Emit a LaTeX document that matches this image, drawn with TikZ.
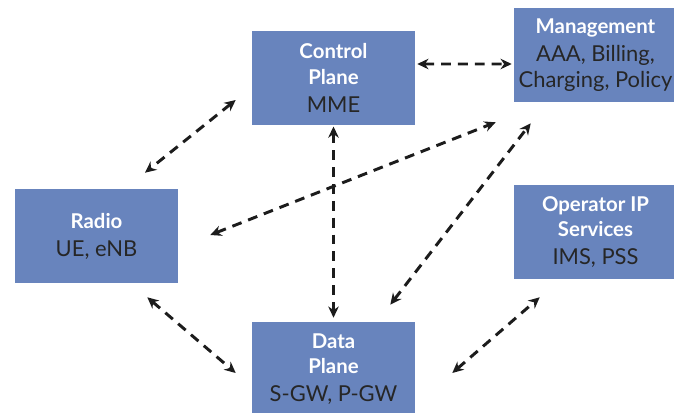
\documentclass[tikz,border=0pt]{standalone}
\usepackage{fontspec}
\setsansfont{Lato}
\usetikzlibrary{arrows.meta,calc}
\definecolor{boxfill}{HTML}{6884BD}
\definecolor{subfg}{HTML}{262626}
\definecolor{arrowc}{HTML}{1C1C1C}
\newcommand{\sublbl}{\mdseries\fontsize{15.6}{20}\selectfont\color{subfg}}

\begin{document}
\begin{tikzpicture}[
  box/.style={
    fill=boxfill,
    draw=none,
    align=center,
    minimum width=4.075cm,
    minimum height=2.35cm,
    inner sep=0pt,
    text=white,
    font=\sffamily\bfseries\fontsize{14.5}{18}\selectfont
  },
  link/.style={
    {Stealth[length=8pt,width=7.5pt]}-{Stealth[length=8pt,width=7.5pt]},
    line width=2.1pt,
    draw=arrowc,
    dash pattern=on 7pt off 5pt
  }
]

\useasboundingbox (0,0) rectangle (16.85,10.3);
\clip (0,0) rectangle (16.85,10.3);

% --- boxes ---
\node[box] (ctrl) at (8.3375,8.35) {Control\\Plane\\[2pt]{\sublbl MME}};
\node[box] (mgmt) at (14.8875,8.925) {Management\\[2pt]{\sublbl AAA, Billing,}\\{\sublbl Charging, Policy}};
\node[box] (radio) at (2.4125,4.4) {Radio\\[2pt]{\sublbl UE, eNB}};
\node[box] (oper) at (14.8875,4.5) {Operator IP\\Services\\[2pt]{\sublbl IMS, PSS}};
\node[box] (data) at (8.3375,1.075) {Data\\Plane\\[2pt]{\sublbl S-GW, P-GW}};

% --- links ---
\draw[link] ([shift={(0.05,0.35)}]ctrl.east) -- ([shift={(-0.05,-0.225)}]mgmt.west);
\draw[link] ([shift={(-0.4,-0.55)}]ctrl.west) -- ([shift={(1.2125,0.4)}]radio.north);
\draw[link] ([yshift=-0.03cm]ctrl.south) -- ([yshift=0.1cm]data.north);
\draw[link] ([shift={(0.8,0.025)}]radio.east) -- ([shift={(-0.45,-0.5)}]mgmt.south west);
\draw[link] ([shift={(-0.625,0.425)}]data.north east) -- ([shift={(0.425,-0.525)}]mgmt.south west);
\draw[link] ([shift={(-0.775,-0.35)}]radio.south east) -- ([shift={(-0.4,-0.1)}]data.west);
\draw[link] ([shift={(0.925,-0.1)}]data.east) -- ([shift={(0.65,-0.45)}]oper.south west);

\end{tikzpicture}
\end{document}
